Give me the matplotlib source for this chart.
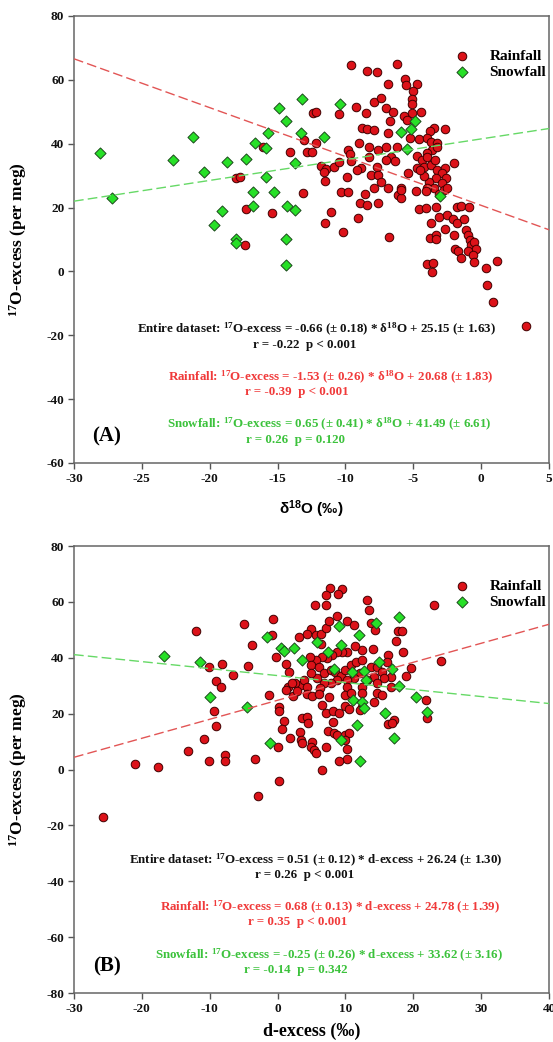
import numpy as np
import matplotlib
matplotlib.use("Agg")
import matplotlib.pyplot as plt

plt.rcParams['font.family'] = 'Liberation Serif'
plt.rcParams['font.weight'] = 'bold'
plt.rcParams['mathtext.default'] = 'regular'
plt.rcParams['axes.unicode_minus'] = False

# ---- Panel A: d18O vs 17O-excess ----
rain_a_x = [-9.6, -8.4, -7.7, -6.2, -6.9, -5.6, -5.55, -4.7, -5.0, -5.1, -5.1, -4.45, -5.1, -5.7, -5.5,
            -7.9, -7.35, -7.0, -6.5, -6.7, -9.2, -8.5, -12.4, -12.2, -10.5, -8.8, -8.4, -7.9, -6.9,
            -3.5, -3.8, -2.65,
            -5.24, -4.58, -4.01, -3.72, -3.22, -3.59, -3.96, -3.29, -4.75, -4.33, -3.96, -4.70, -4.21,
            -3.72, -3.39, -3.27, -2.66, -2.85, -2.61, -3.34, -3.84, -3.47, -2.85, -2.73, -2.48, -3.10,
            -3.96, -4.21, -4.5, -1.99, -13.07, -12.82, -12.45, -12.2, -14.05, -11.8, -11.4, -11.6,
            -10.85, -10.48, -11.47, -9.82, -9.67, -9.57, -9.0, -8.88, -9.13, -9.87, -8.27, -7.6, -7.04,
            -6.17, -6.67, -7.04, -6.35, -8.27, -7.65, -8.14, -7.58, -7.4, -7.9, -6.9, -5.93, -6.1,
            -10.36, -9.82, -8.59, -13.1, -5.4, -4.8, -4.1, -5.9, -5.9,
            -8.9, -8.4, -7.6, -16.1, -18.1, -17.8, -17.3, -15.4, -17.4,
            -11.5, -11.1, -10.2, -9.05, -6.8,
            -4.6, -4.1, -3.7, -3.3, -3.1, -3.8, -3.3, -3.3, -2.65, -2.55, -2.04, -1.8, -1.25, -1.8,
            -1.5, -0.93, -2.0, -1.13, -1.0, -0.83, -0.76, -0.5, -0.4, -1.0, -0.63, -0.5, -1.9, -1.7,
            -1.5, -4.0, -3.55, -3.6, 0.35, 0.4, 0.9, 1.2, 3.3]
rain_a_y = [64.6, 62.8, 62.3, 64.8, 58.7, 60.2, 58.5, 58.7, 56.5, 53.9, 52.5, 49.8, 49.6, 48.8, 47.4,
            53.0, 54.3, 51.1, 50.0, 47.1, 51.6, 49.7, 49.6, 50.0, 49.2, 45.0, 44.7, 44.3, 43.4,
            45.0, 44.0, 44.5,
            41.7, 41.5, 41.9, 40.6, 40.1, 38.0, 37.0, 38.8, 36.2, 34.9, 35.9, 32.3, 32.8,
            33.3, 34.9, 31.8, 32.3, 30.7, 29.4, 29.1, 28.1, 26.0, 27.6, 25.5, 26.0, 24.1,
            26.0, 30.0, 31.8, 33.8, 41.2, 37.5, 37.5, 40.1, 37.5, 33.1, 32.1, 31.0,
            32.8, 34.4, 28.3, 38.0, 36.7, 34.6, 40.1, 32.5, 31.8, 29.7, 38.8, 38.0, 38.8,
            39.1, 35.9, 34.9, 34.6, 35.9, 32.8, 30.2, 30.2, 28.1, 26.0, 26.0, 26.0, 23.9,
            25.0, 25.0, 24.2, 24.7, 30.9, 25.1, 25.1, 22.9, 25.6,
            21.3, 20.8, 21.3, 38.9, 29.3, 29.5, 19.6, 18.2, 8.2,
            15.0, 18.5, 12.2, 16.8, 10.8,
            19.5, 20.0, 15.3, 20.2, 16.9, 10.6, 11.3, 10.1, 13.3, 17.8, 16.3, 15.0, 16.4, 20.2,
            20.5, 20.2, 11.4, 12.9, 11.4, 9.8, 8.2, 9.3, 7.0, 6.5, 5.1, 2.8, 7.0, 6.4,
            4.3, 2.2, 2.7, -0.3, 1.2, -4.2, -9.6, 3.4, -17.2]

snow_a_x = [-28.1, -27.2, -22.7, -21.2, -20.4, -18.7, -17.3, -16.7, -15.85, -15.7, -14.9, -14.4, -13.2,
            -13.3, -13.75, -11.6, -10.4, -15.85, -16.8, -15.3, -16.8, -19.1, -19.7, -18.1, -18.05,
            -14.3, -13.7, -14.4, -14.4, -5.9, -5.2, -4.9, -5.5, -3.0]
snow_a_y = [37.2, 23.0, 35.0, 42.0, 31.0, 34.2, 35.3, 40.3, 38.5, 43.2, 51.2, 47.2, 54.0,
            43.3, 33.8, 42.0, 52.3, 29.5, 25.0, 25.0, 20.6, 18.9, 14.4, 10.0, 8.8,
            20.6, 19.2, 10.0, 2.0, 43.6, 44.5, 47.0, 38.3, 23.5]

# ---- Panel B: d-excess vs 17O-excess ----
rain_b_x = [-25.7, -21.0, -17.6, -13.2, -10.8, -9.3, -9.0, -10.1, -7.8, -7.8, -3.3, -2.9, 0.2, 6.6,
            -12.0, -10.1, -8.2, -9.0, -8.3, -6.5, -5.0, -3.8, -4.3, -0.7, -0.8, -0.25, 1.2, 1.7, -1.25,
            7.7, 9.5, 7.2, 8.9, 5.5, 7.2, 13.2, 13.4, 23.0, 4.9, 4.4, 5.6, 6.4, 7.2, 7.6, 8.7, 10.3,
            11.3, 13.8, 14.3, 17.7, 18.4, 17.5, 18.5, 24.1, 19.6, 18.9, 16.7, 16.2, 16.1, 14.1, 12.5,
            11.4, 3.2, 6.4, 3.4, 1.5,
            10.3, 9.5, 8.8, 8.0, 7.3, 6.6, 5.6, 4.8, 4.9, 6.1, 6.8, 7.8, 8.5, 9.3, 10.0, 10.8, 11.6,
            12.5, 13.7, 14.7, 15.4, 15.7, 14.2, 13.2, 12.2, 11.3, 10.3, 8.8, 7.8, 6.8, 5.8, 4.9, 3.9,
            2.6, 1.2, 2.15, 4.4, 6.3, 10.3, 12.5, 14.7, 16.7,
            2.2, 2.8, 4.4, 5.1, 6.1, 7.6, 10.0, 10.8, 12.5, 14.2, 14.7, 15.4, 21.8,
            0.2, 0.2, 0.9, 0.7, 3.6, 4.4, 4.5, 3.3, 1.9, 3.4, 3.6, 5.1, 4.9, 5.3, 5.7, 0.0,
            7.2, 7.4, 6.6, 7.1, 8.1, 9.0, 8.2, 8.3, 8.7, 10.0, 10.5, 10.0, 10.3, 10.3, 9.0,
            10.0, 10.5, 12.5, 12.1, 16.2, 17.2, 16.9, 22.0]
rain_b_y = [-17.0, 2.0, 1.0, 6.6, 10.8, 21.0, 15.5, 3.0, 5.1, 3.2, 3.8, -9.5, -4.0, 0.0,
            49.5, 36.7, 37.9, 31.8, 29.4, 34.0, 52.0, 44.5, 37.0, 54.0, 48.3, 40.2, 37.8, 35.0, 26.8,
            65.0, 64.7, 62.5, 62.8, 59.0, 59.0, 60.5, 57.0, 59.0, 50.2, 48.5, 48.0, 48.5, 50.5, 53.0,
            55.0, 53.0, 51.8, 52.3, 50.0, 49.5, 49.5, 46.0, 42.0, 39.0, 36.3, 33.3, 33.2, 41.0, 38.6,
            43.1, 42.8, 44.2, 47.5, 44.8, 30.2, 29.6,
            42.2, 42.2, 42.2, 41.0, 39.8, 40.1, 39.2, 40.1, 37.4, 36.8, 34.4, 35.6, 35.0, 33.5, 35.6,
            37.4, 38.6, 39.2, 36.8, 36.8, 35.0, 32.6, 33.2, 32.0, 34.4, 32.6, 32.0, 32.0, 30.8, 30.8,
            32.6, 34.4, 32.0, 31.0, 28.4, 30.8, 29.6, 29.0, 29.6, 29.6, 30.8, 29.6,
            26.3, 28.0, 27.0, 26.3, 27.0, 25.8, 26.7, 27.5, 27.3, 24.3, 27.3, 26.7, 25.0,
            22.2, 21.1, 17.5, 14.4, 18.3, 18.9, 16.5, 13.5, 11.4, 10.6, 9.4, 10.0, 8.2, 7.0, 6.0, 7.9,
            7.9, 13.9, 23.1, 20.4, 21.1, 20.4, 17.1, 13.0, 12.4, 12.4, 12.9, 10.6, 7.2, 3.6, 3.2,
            22.7, 21.5, 22.5, 21.3, 16.3, 17.7, 16.5, 18.5]

snow_b_x = [-16.8, -11.4, -9.9, -4.5, -1.1, -1.6, 0.5, 0.9, 2.4, 3.6, 5.8, 7.4, 9.0, 9.3, 12.0, 14.5,
            17.9, 8.3, 11.0, 12.7, 13.1, 14.9, 16.8, 17.9, 20.4, 11.1, 12.4, 12.7, 11.7, 15.8, 17.1,
            12.1, 9.3, 22.0]
snow_b_y = [40.5, 38.5, 26.0, 22.5, 9.5, 47.5, 43.5, 42.5, 43.5, 39.3, 45.5, 42.0, 51.5, 44.5, 48.0,
            52.5, 54.5, 36.0, 35.0, 35.2, 32.0, 38.5, 36.0, 30.0, 26.0, 25.0, 24.3, 22.0, 16.0, 20.2,
            11.3, 3.0, 10.5, 20.5]

# regression lines (slope, intercept) as printed in the figure
fit_a = {'rain': (-1.53, 20.68), 'snow': (0.65, 41.49)}
fit_b = {'rain': (0.68, 24.78), 'snow': (-0.25, 33.62)}

text_a = [
    (r'Entire dataset: $^{17}$O-excess = -0.66 ($\pm$ 0.18) * $\delta^{18}$O + 25.15 ($\pm$ 1.63)', 'r = -0.22  p < 0.001'),
    (r'Rainfall: $^{17}$O-excess = -1.53 ($\pm$ 0.26) * $\delta^{18}$O + 20.68 ($\pm$ 1.83)', 'r = -0.39  p < 0.001'),
    (r'Snowfall: $^{17}$O-excess = 0.65 ($\pm$ 0.41) * $\delta^{18}$O + 41.49 ($\pm$ 6.61)', 'r = 0.26  p = 0.120'),
]
text_b = [
    (r'Entire dataset: $^{17}$O-excess = 0.51 ($\pm$ 0.12) * d-excess + 26.24 ($\pm$ 1.30)', 'r = 0.26  p < 0.001'),
    (r'Rainfall: $^{17}$O-excess = 0.68 ($\pm$ 0.13) * d-excess + 24.78 ($\pm$ 1.39)', 'r = 0.35  p < 0.001'),
    (r'Snowfall: $^{17}$O-excess = -0.25 ($\pm$ 0.26) * d-excess + 33.62 ($\pm$ 3.16)', 'r = -0.14  p = 0.342'),
]

RED = '#dc1219'
GREEN = '#27e027'
RED_TXT = '#f03a3a'
GREEN_TXT = '#3cc23c'


def panel(ax, rx, ry, sx, sy, fits, xlim, ylim, xticks, yticks, texts, tag):
    ax.scatter(rx, ry, s=38, marker='o', facecolor=RED, edgecolor='#400000', linewidth=0.7,
               zorder=3, label='Rainfall')
    ax.scatter(sx, sy, s=32, marker='D', facecolor=GREEN, edgecolor='#1c4a1c', linewidth=0.7,
               zorder=3, label='Snowfall')
    xx = np.linspace(xlim[0], xlim[1], 50)
    m, b = fits['rain']
    ax.plot(xx, m * xx + b, color='#e25555', lw=1.0, dashes=(7, 3), zorder=4)
    m, b = fits['snow']
    ax.plot(xx, m * xx + b, color='#66d966', lw=1.0, dashes=(7, 3), zorder=4)

    ax.set_xlim(xlim)
    ax.set_ylim(ylim)
    ax.set_xticks(xticks)
    ax.set_yticks(yticks)
    ax.tick_params(direction='out', length=4, width=1, labelsize=9.5, top=False, right=False,
                   color='#555555', labelcolor='#111111', pad=3)
    for lab in ax.get_xticklabels() + ax.get_yticklabels():
        lab.set_fontweight('bold')
    for sp in ax.spines.values():
        sp.set_color('#666666')
        sp.set_linewidth(1.1)

    leg = ax.legend(loc='upper right', frameon=False, fontsize=11, handletextpad=0.8,
                    borderaxespad=0.3, labelspacing=0.15, bbox_to_anchor=(1.017, 0.95))
    for t in leg.get_texts():
        t.set_fontweight('bold')

    cols = ['#111111', RED_TXT, GREEN_TXT]
    ys = [(0.2975, 0.264), (0.192, 0.159), (0.085, 0.051)]
    xs = [(0.51, 0.486), (0.54, 0.47), (0.537, 0.466)]
    for (l1, l2), c, (y1, y2), (x1, x2) in zip(texts, cols, ys, xs):
        ax.text(x1, y1, l1, transform=ax.transAxes, ha='center', va='center', fontsize=9.4,
                fontweight='bold', color=c)
        ax.text(x2, y2, l2, transform=ax.transAxes, ha='center', va='center', fontsize=9.4,
                fontweight='bold', color=c)
    ax.text(0.069, 0.06, tag, transform=ax.transAxes, ha='center', va='center', fontsize=15,
            fontweight='bold')
    ax.set_ylabel(r'$^{17}$O-excess (per meg)', fontsize=12.5, fontweight='bold')
    ax.yaxis.set_label_coords(-0.095, 0.5)


fig = plt.figure(figsize=(5.53, 10.42), dpi=100)
ax1 = fig.add_axes([0.1338, 0.5557, 0.8590, 0.4290])
ax2 = fig.add_axes([0.1338, 0.0470, 0.8590, 0.4290])

panel(ax1, rain_a_x, rain_a_y, snow_a_x, snow_a_y, fit_a, (-30, 5), (-60, 80),
      np.arange(-30, 6, 5), np.arange(-60, 81, 20), text_a, '(A)')
panel(ax2, rain_b_x, rain_b_y, snow_b_x, snow_b_y, fit_b, (-30, 40), (-80, 80),
      np.arange(-30, 41, 10), np.arange(-80, 81, 20), text_b, '(B)')

ax1.set_xlabel(r'$\delta^{18}$O (‰)', fontsize=11, fontweight='bold', family='Liberation Sans')
ax1.xaxis.set_label_coords(0.5, -0.08)
ax2.set_xlabel('d-excess (‰)', fontsize=13, fontweight='bold')
ax2.xaxis.set_label_coords(0.5, -0.066)

fig.savefig('out.png', dpi=100)
